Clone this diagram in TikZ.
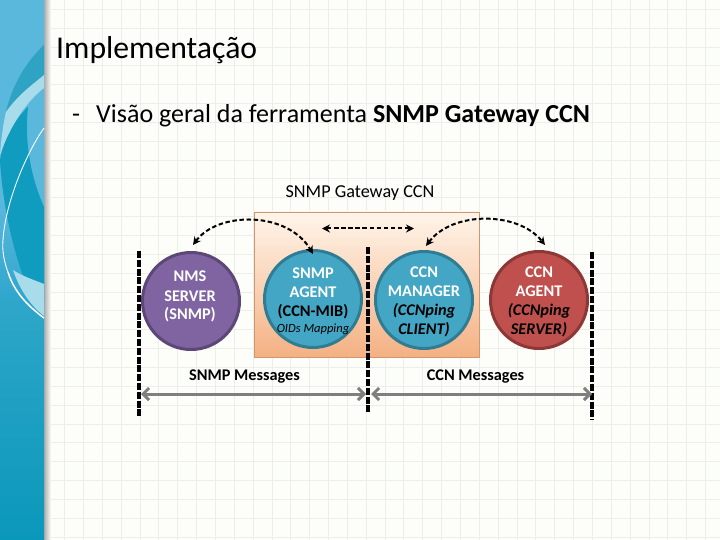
\documentclass[tikz,border=0pt]{standalone}
\usepackage{fontspec}
\setmainfont{Carlito}
\usetikzlibrary{arrows.meta,shadings}
\definecolor{gridc}{HTML}{ECEEE8}
\definecolor{paper}{HTML}{FDFDF9}
\definecolor{sideblue}{HTML}{5BB8DD}
\definecolor{sidemid}{HTML}{2FA6CC}
\definecolor{sidebot}{HTML}{0A98BA}
\definecolor{sidedark}{HTML}{0F9CBE}
\definecolor{sideteal}{HTML}{2FA3C4}
\definecolor{sidepale}{HTML}{A9DCEB}
\definecolor{tealf}{HTML}{43A6C4}
\definecolor{teald}{HTML}{2F7C93}
\definecolor{purpf}{HTML}{8064A2}
\definecolor{purpd}{HTML}{5C4776}
\definecolor{redf}{HTML}{C0504D}
\definecolor{redd}{HTML}{8C3836}
\definecolor{orangeb}{HTML}{F4B183}
\definecolor{spang}{HTML}{7F7F7F}
\tikzset{
 circ/.style={circle,minimum size=97pt,inner sep=0pt,line width=3pt},
 bar/.style={line width=3.6pt,dash pattern=on 7pt off 1.8pt,black},
 hop/.style={line width=2pt,dash pattern=on 4.5pt off 2.6pt,black,{Stealth[length=8pt,width=8pt]}-{Stealth[length=8pt,width=8pt]}},
 span/.style={line width=3pt,draw=spang,{Straight Barb[length=6pt,width=12pt,line width=3pt]}-{Straight Barb[length=6pt,width=12pt,line width=3pt]}},
 wt/.style={anchor=base,inner sep=0pt,font=\fontsize{16.3}{19}\selectfont\bfseries,text=white},
 bt/.style={anchor=base,inner sep=0pt,font=\fontsize{16.3}{19}\selectfont\bfseries},
 it/.style={anchor=base,inner sep=0pt,font=\fontsize{16.3}{19}\selectfont\bfseries\itshape}
}
\begin{document}
\begin{tikzpicture}[x=1pt,y=-1pt]
\useasboundingbox (0,0) rectangle (720,540);
\fill[paper] (0,0) rectangle (720,540);
\foreach \x in {64.5,83.35,...,720}
  \draw[gridc,line width=.7pt] (\x,0) -- (\x,540);
\foreach \y in {9.2,28.05,...,540}
  \draw[gridc,line width=.7pt] (44,\y) -- (720,\y);
% sidebar
\shade[left color=black!32,right color=paper] (44,0) rectangle (51,540);
\shade[top color=sideblue,middle color=sidemid,bottom color=sidebot] (0,0) rectangle (44,540);
\fill[sideblue] (0,0) rectangle (44,200);
\shade[top color=sideblue,bottom color=sidemid] (0,200) rectangle (44,300);
\fill[sidedark] (28,107) .. controls (12,122) and (3,143) .. (0,160) .. controls (3,215) and (20,285) .. (44,318) -- (44,207) .. controls (32,180) and (24,145) .. (28,107) -- cycle;
\fill[sideteal] (44,45) .. controls (26,62) and (12,85) .. (6,112) .. controls (18,95) and (32,85) .. (44,75) -- cycle;
\fill[sidepale] (44,75) .. controls (32,85) and (18,95) .. (6,112) .. controls (3,125) and (1,140) .. (0,155) .. controls (10,125) and (28,100) .. (44,88) -- cycle;
\fill[sidepale] (13,270) .. controls (22,276) and (34,280) .. (44,284) -- (44,316) .. controls (30,305) and (20,290) .. (13,270) -- cycle;
\draw[white,line width=.9pt] (44,128) .. controls (25,155) and (5,205) .. (3,240) .. controls (2,250) and (4,262) .. (8,272);
\draw[white,line width=1.5pt] (8,272) .. controls (14,292) and (28,306) .. (44,318);
% titles
\node[anchor=base west,inner sep=0pt,font=\fontsize{31.7}{36}\selectfont] (title) at (56,59) {Implementação};
\node[anchor=base west,inner sep=0pt,font=\fontsize{26}{30}\selectfont] (dash) at (72,122.5) {-};
\node[anchor=base west,inner sep=0pt,font=\fontsize{26}{30}\selectfont] (sub) at (96,122.5) {Visão geral da ferramenta \textbf{SNMP Gateway CCN}};
\node[anchor=base,inner sep=0pt,font=\fontsize{18.2}{22}\selectfont] (gw) at (360,197) {SNMP Gateway CCN};
% box
\draw[draw=orangeb!85!black,line width=.8pt,top color=orange!8!white,bottom color=orangeb] (254,212) rectangle (479,357);
% bars
\coordinate (b1t) at (139,251); \coordinate (b1b) at (139,418);
\coordinate (b2t) at (368,247); \coordinate (b2b) at (368,413);
\coordinate (b3t) at (592,252); \coordinate (b3b) at (592,420);
\draw[bar] (b1t) -- (b1b);
\draw[bar] (b2t) -- (b2b);
\draw[bar] (b3t) -- (b3b);
% circles
\node[circ,fill=purpf,draw=purpd] (nms) at (191,301) {};
\node[circ,fill=tealf,draw=teald] (agent) at (313,299) {};
\node[circ,fill=tealf,draw=teald] (mgr) at (424,300) {};
\node[circ,fill=redf,draw=redd] (ccn) at (539,300) {};
\node[wt] (n1) at (190,281.5) {NMS};
\node[wt] (n2) at (190,301) {SERVER};
\node[wt] (n3) at (190,319.5) {(SNMP)};
\node[wt] (a1) at (313,278) {SNMP};
\node[wt] (a2) at (313,297) {AGENT};
\node[bt] (a3) at (313,316.5) {(CCN-MIB)};
\node[anchor=base,inner sep=0pt,font=\fontsize{12.5}{15}\selectfont\itshape] (a4) at (313,332) {OIDs Mapping};
\node[wt] (m1) at (424,277) {CCN};
\node[wt] (m2) at (424,296) {MANAGER};
\node[it] (m3) at (424,315) {(CCNping};
\node[it] (m4) at (424,334) {CLIENT)};
\node[wt] (c1) at (539,277) {CCN};
\node[wt] (c2) at (539,296) {AGENT};
\node[it] (c3) at (539,315) {(CCNping};
\node[it] (c4) at (539,334) {SERVER)};
% hops
\draw[hop] ([shift={(2,-6)}]nms.north) .. controls (218,211) and (288,211) .. ([yshift=-5pt]agent.north);
\draw[hop] ([shift={(2,-4)}]mgr.north) .. controls (452,211) and (518,211) .. ([shift={(6,-5)}]ccn.north);
\coordinate (h1) at (322,228.5); \coordinate (h2) at (414,228.5);
\draw[hop] (h1) -- (h2);
% spans
\coordinate (s1) at (141,394); \coordinate (s2) at (366,394);
\coordinate (s3) at (371,394); \coordinate (s4) at (592,394);
\draw[span] (s1) -- (s2);
\draw[span] (s3) -- (s4);
\node[bt] (l1) at (244.5,380.5) {SNMP Messages};
\node[bt] (l2) at (475.5,380.5) {CCN Messages};
\end{tikzpicture}
\end{document}
